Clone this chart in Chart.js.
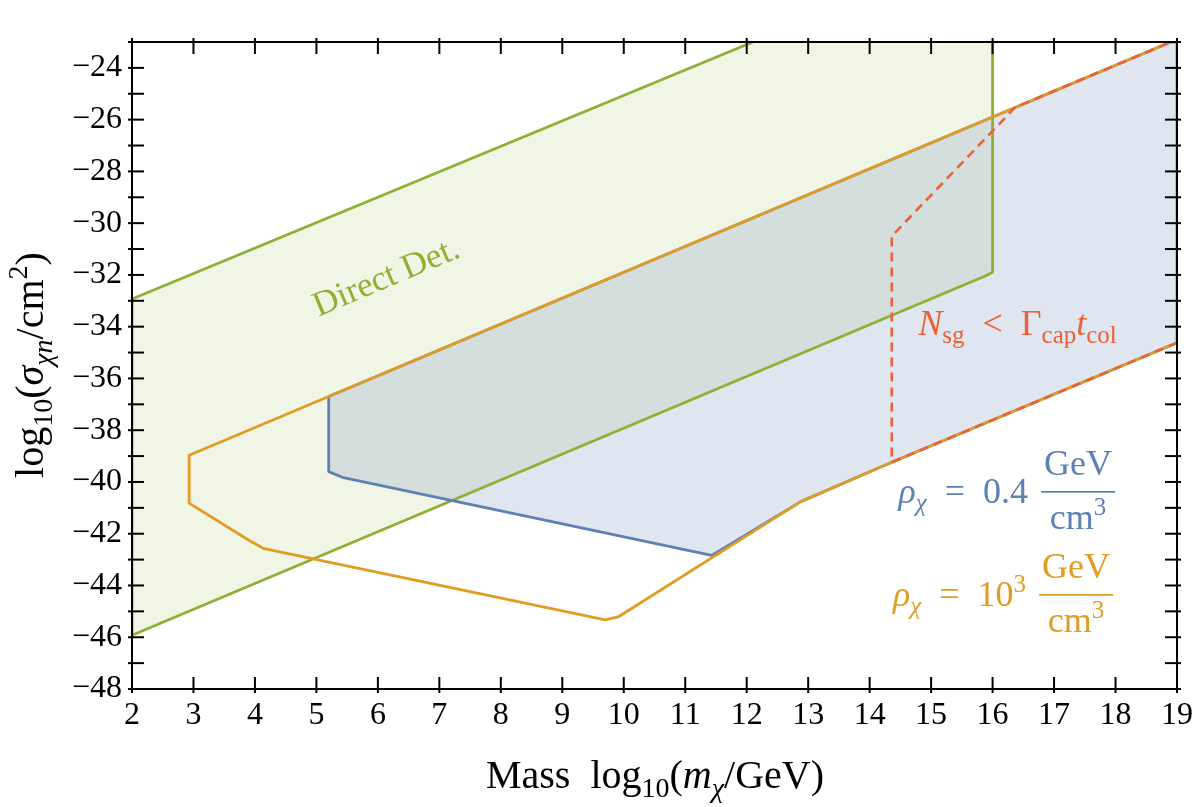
<!DOCTYPE html>
<html><head><meta charset="utf-8">
<script src="https://cdn.jsdelivr.net/npm/chart.js@4.4.1/dist/chart.umd.min.js"></script>
<style>html,body{margin:0;padding:0;background:#fff}canvas{display:block}</style>
</head><body>
<canvas id="c" width="1200" height="807"></canvas>
<script>
// ---- axis ranges / ticks ----
const xRange = [2, 19];
const yRange = [-48, -23];
const xTickStep = 1;
const yTickStep = 2;

// ---- Direct detection region (green) ----
const directX = [12.1, 2, 2, 15.9, 16, 16];
const directY = [-23, -32.93, -45.92, -32.02, -31.9, -23];

// ---- rho = 0.4 GeV/cm^3 region (blue) ----
const rhoLowX = [5.2, 5.2, 5.42, 11.43, 12.88, 14.36, 19, 19, 18.9, 5.2];
const rhoLowY = [-36.7, -39.6, -39.82, -42.84, -40.76, -39.24, -34.62, -23, -23, -36.7];

// ---- rho = 10^3 GeV/cm^3 boundary (orange) ----
const rhoHighX = [18.9, 2.93, 2.93, 3.9, 4.15, 9.7, 9.92, 12.88, 14.36, 19];
const rhoHighY = [-23, -38.97, -40.82, -42.25, -42.58, -45.33, -45.2, -40.76, -39.24, -34.62];

// ---- N_sg < Gamma_cap t_col boundary (red dashed) ----
const nsgX = [19, 14.36, 14.36, 16.37, 18.9];
const nsgY = [-34.62, -39.24, -30.5, -25.52, -23];

// ---- annotation anchors (data coordinates) ----
const labelDirect = [6.14, -32.12];
const labelNsg = [14.79, -34.32];
const labelRhoLow = [14.47, -40.81];
const labelRhoHigh = [14.38, -44.79];

const GREEN = '#8FB032', BLUE = '#5E81B5', ORANGE = '#E19C24', RED = '#EB6235';
const FONT = '"Liberation Serif", "Times New Roman", serif';
const EN = '\u2002';

const pts = (xs, ys) => xs.map((x, i) => ({x, y: ys[i]}));

function setFont(ctx, size, italic) {
  ctx.font = (italic ? 'italic ' : '') + size + 'px ' + FONT;
}
function runsWidth(ctx, runs) {
  let w = 0;
  for (const r of runs) { setFont(ctx, r.s, r.it); w += ctx.measureText(r.t).width; }
  return w;
}
function drawRuns(ctx, x, y, runs) {
  let cx = x;
  ctx.textAlign = 'left';
  ctx.textBaseline = 'alphabetic';
  for (const r of runs) {
    setFont(ctx, r.s, r.it);
    ctx.fillText(r.t, cx, y + (r.dy || 0));
    cx += ctx.measureText(r.t).width;
  }
  return cx;
}
function drawFraction(ctx, x, baseY, color) {
  const num = [{t: 'GeV', s: 36}];
  const den = [{t: 'cm', s: 36}, {t: '3', s: 25, dy: -14}];
  const nw = runsWidth(ctx, num), dw = runsWidth(ctx, den);
  const bw = Math.max(nw, dw) + 6;
  const barY = baseY - 11;
  ctx.fillStyle = color;
  drawRuns(ctx, x + (bw - nw) / 2, barY - 17, num);
  drawRuns(ctx, x + (bw - dw) / 2, barY + 37, den);
  ctx.strokeStyle = color; ctx.lineWidth = 1.7;
  ctx.beginPath(); ctx.moveTo(x, barY); ctx.lineTo(x + bw, barY); ctx.stroke();
}

const overlay = {
  id: 'overlay',
  afterDatasetsDraw(chart) {
    const {ctx, chartArea: a, scales: {x, y}} = chart;
    ctx.save();
    // Direct Det. label
    const ang = Math.atan2(y.getPixelForValue(0) - y.getPixelForValue(1), x.getPixelForValue(1) - x.getPixelForValue(0));
    ctx.save();
    ctx.translate(x.getPixelForValue(labelDirect[0]), y.getPixelForValue(labelDirect[1]));
    ctx.rotate(-ang);
    ctx.fillStyle = GREEN; setFont(ctx, 35, false);
    ctx.textAlign = 'center'; ctx.textBaseline = 'middle';
    ctx.fillText('Direct Det.', 0, 0);
    ctx.restore();

    // N_sg label
    ctx.fillStyle = RED;
    drawRuns(ctx, x.getPixelForValue(labelNsg[0]), y.getPixelForValue(labelNsg[1]), [
      {t: 'N', s: 36, it: true}, {t: 'sg', s: 25, dy: 8}, {t: EN + '<' + EN, s: 36},
      {t: 'Γ', s: 36}, {t: 'cap', s: 25, dy: 8}, {t: 't', s: 36, it: true}, {t: 'col', s: 25, dy: 8}
    ]);

    // rho labels
    ctx.fillStyle = BLUE;
    let bx = x.getPixelForValue(labelRhoLow[0]), by = y.getPixelForValue(labelRhoLow[1]);
    let ex = drawRuns(ctx, bx, by, [
      {t: 'ρ', s: 36, it: true}, {t: 'χ', s: 25, it: true, dy: 8}, {t: EN + '=' + EN + '0.4 ', s: 36}
    ]);
    drawFraction(ctx, ex + 4, by, BLUE);

    ctx.fillStyle = ORANGE;
    bx = x.getPixelForValue(labelRhoHigh[0]); by = y.getPixelForValue(labelRhoHigh[1]);
    ex = drawRuns(ctx, bx, by, [
      {t: 'ρ', s: 36, it: true}, {t: 'χ', s: 25, it: true, dy: 8}, {t: EN + '=' + EN + '10', s: 36},
      {t: '3', s: 25, dy: -14}, {t: ' ', s: 36}
    ]);
    drawFraction(ctx, ex + 4, by, ORANGE);

    // frame and ticks
    ctx.strokeStyle = '#000'; ctx.lineWidth = 2;
    ctx.strokeRect(a.left, a.top, a.right - a.left, a.bottom - a.top);
    const seg = (x1, y1, x2, y2) => { ctx.beginPath(); ctx.moveTo(x1, y1); ctx.lineTo(x2, y2); ctx.stroke(); };
    for (let v = Math.ceil(x.min); v <= x.max; v += 1) {
      const px = x.getPixelForValue(v);
      seg(px, a.bottom + 4, px, a.bottom - 12);
      seg(px, a.top - 4, px, a.top + 12);
    }
    for (let v = Math.ceil(y.min); v <= y.max; v += 1) {
      const py = y.getPixelForValue(v);
      seg(a.left - 4, py, a.left + 12, py);
      seg(a.right + 4, py, a.right - 12, py);
    }

    // axis titles
    ctx.fillStyle = '#000';
    const xt = [
      {t: 'Mass' + EN + 'log', s: 40}, {t: '10', s: 28, dy: 9}, {t: '(', s: 40}, {t: 'm', s: 40, it: true},
      {t: 'χ', s: 28, it: true, dy: 9}, {t: '/GeV)', s: 40}
    ];
    const xw = runsWidth(ctx, xt);
    drawRuns(ctx, 655 - xw / 2, 788, xt);

    const yt = [
      {t: 'log', s: 40}, {t: '10', s: 28, dy: 9}, {t: '(', s: 40}, {t: 'σ', s: 40, it: true},
      {t: 'χn', s: 28, it: true, dy: 9}, {t: '/cm', s: 40}, {t: '2', s: 28, dy: -16}, {t: ')', s: 40}
    ];
    const yw = runsWidth(ctx, yt);
    ctx.save();
    ctx.translate(43, 365);
    ctx.rotate(-Math.PI / 2);
    drawRuns(ctx, -yw / 2, 0, yt);
    ctx.restore();

    ctx.restore();
  }
};

const lineDs = (label, data, color, order, extra) => Object.assign({
  label, data, showLine: true, borderColor: color, borderWidth: 2.8, pointRadius: 0,
  fill: false, tension: 0, order, borderJoinStyle: 'round', borderCapStyle: 'butt'
}, extra || {});

new Chart(document.getElementById('c'), {
  type: 'scatter',
  data: {
    datasets: [
      {label: 'Direct Det. fill', data: pts(directX, directY), showLine: true, borderWidth: 0,
       borderColor: 'rgba(0,0,0,0)', backgroundColor: 'rgba(143,176,50,0.12)', fill: 'shape', pointRadius: 0, order: 6},
      {label: 'rho 0.4 fill', data: pts(rhoLowX, rhoLowY), showLine: true, borderWidth: 0,
       borderColor: 'rgba(0,0,0,0)', backgroundColor: 'rgba(94,129,181,0.2)', fill: 'shape', pointRadius: 0, order: 5},
      lineDs('Direct Det.', pts(directX, directY), GREEN, 4),
      lineDs('rho 0.4', pts(rhoLowX, rhoLowY), BLUE, 3),
      lineDs('rho 1e3', pts(rhoHighX, rhoHighY), ORANGE, 2),
      lineDs('Nsg < Gamma t', pts(nsgX, nsgY), RED, 1, {borderDash: [9, 6], borderWidth: 2.6})
    ]
  },
  options: {
    responsive: false,
    animation: false,
    devicePixelRatio: 1,
    layout: {padding: {left: 0, right: 21, top: 42, bottom: 0}},
    plugins: {legend: {display: false}, tooltip: {enabled: false}},
    scales: {
      x: {
        type: 'linear', min: xRange[0], max: xRange[1],
        grid: {display: false, drawTicks: false}, border: {display: false},
        ticks: {stepSize: xTickStep, includeBounds: false, autoSkip: false, maxRotation: 0,
                padding: 7, color: '#000', font: {family: FONT, size: 32}},
        afterFit(s) { s.height = 118; }
      },
      y: {
        type: 'linear', min: yRange[0], max: yRange[1],
        grid: {display: false, drawTicks: false}, border: {display: false},
        ticks: {stepSize: yTickStep, includeBounds: false, autoSkip: false,
                padding: 10, color: '#000', font: {family: FONT, size: 32},
                callback: v => (v < 0 ? '−' : '') + Math.abs(v)},
        afterFit(s) { s.width = 132; }
      }
    }
  },
  plugins: [overlay]
});
</script>
</body></html>
